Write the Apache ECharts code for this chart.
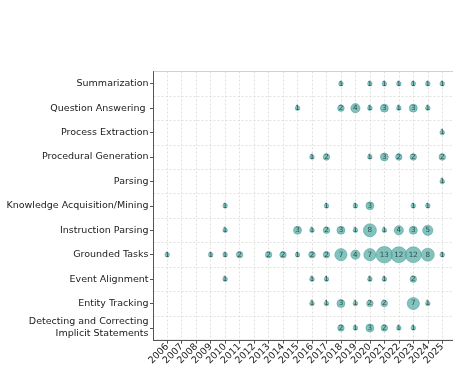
<!DOCTYPE html>
<html>
<head>
<meta charset="utf-8">
<script src="https://cdn.jsdelivr.net/npm/echarts@6/dist/echarts.min.js"></script>
<style>
  html, body { margin: 0; padding: 0; background: #fff; }
  #chart { width: 453px; height: 369px; }
</style>
</head>
<body>
<div id="chart"></div>
<script>
// Publication years on the x axis
const years = [2006, 2007, 2008, 2009, 2010, 2011, 2012, 2013, 2014, 2015,
               2016, 2017, 2018, 2019, 2020, 2021, 2022, 2023, 2024, 2025];

// Task categories, listed top to bottom
const tasks = [
  'Summarization',
  'Question Answering ',
  'Process Extraction',
  'Procedural Generation',
  'Parsing',
  'Knowledge Acquisition/Mining',
  'Instruction Parsing',
  'Grounded Tasks',
  'Event Alignment',
  'Entity Tracking',
  'Detecting and Correcting\nImplicit Statements'
];

// Paper counts per year (aligned with `years`), one array per task
const summarization        = [0,0,0,0,0,0,0,0,0,0, 0,0,1,0,1,1,1,1,1,1];
const questionAnswering    = [0,0,0,0,0,0,0,0,0,1, 0,0,2,4,1,3,1,3,1,0];
const processExtraction    = [0,0,0,0,0,0,0,0,0,0, 0,0,0,0,0,0,0,0,0,1];
const proceduralGeneration = [0,0,0,0,0,0,0,0,0,0, 1,2,0,0,1,3,2,2,0,2];
const parsing              = [0,0,0,0,0,0,0,0,0,0, 0,0,0,0,0,0,0,0,0,1];
const knowledgeAcquisition = [0,0,0,0,1,0,0,0,0,0, 0,1,0,1,3,0,0,1,1,0];
const instructionParsing   = [0,0,0,0,1,0,0,0,0,3, 1,2,3,1,8,1,4,3,5,0];
const groundedTasks        = [1,0,0,1,1,2,0,2,2,1, 2,2,7,4,7,13,12,12,8,1];
const eventAlignment       = [0,0,0,0,1,0,0,0,0,0, 1,1,0,0,1,1,0,2,0,0];
const entityTracking       = [0,0,0,0,0,0,0,0,0,0, 1,1,3,1,2,2,0,7,1,0];
const detectingCorrecting  = [0,0,0,0,0,0,0,0,0,0, 0,0,2,1,3,2,1,1,0,0];

const rows = [summarization, questionAnswering, processExtraction, proceduralGeneration,
              parsing, knowledgeAcquisition, instructionParsing, groundedTasks,
              eventAlignment, entityTracking, detectingCorrecting];

// Flatten into [year, task, count] triples, skipping empty cells
const points = [];
rows.forEach((counts, r) => {
  counts.forEach((c, i) => {
    if (c > 0) points.push([years[i], tasks[r], c]);
  });
});

const chart = echarts.init(document.getElementById('chart'), null, { renderer: 'canvas' });

const gridDash = { color: '#d9d9d9', width: 0.8, type: [2, 2] };
const font = 'DejaVu Sans';

chart.setOption({
  animation: false,
  backgroundColor: '#ffffff',
  grid: {
    left: 153.5, top: 71.5, width: 302.5, height: 268.7,
    outerBoundsMode: 'none',
    containLabel: false,
    show: true, borderColor: '#cccccc', borderWidth: 1, backgroundColor: 'transparent'
  },
  xAxis: {
    type: 'value',
    min: 2005.05,
    max: 2025.95,
    axisLine: { show: true, onZero: false, lineStyle: { color: '#555', width: 1 } },
    axisTick: { show: true, length: 3.5, customValues: years, lineStyle: { color: '#555' } },
    axisLabel: {
      customValues: years,
      rotate: 45,
      fontFamily: font,
      fontSize: 9.5,
      color: '#1a1a1a',
      margin: 5,
      formatter: v => String(v)
    },
    splitLine: { show: true, lineStyle: gridDash }
  },
  yAxis: {
    type: 'category',
    data: tasks,
    inverse: true,
    boundaryGap: true,
    axisLine: { show: true, lineStyle: { color: '#555', width: 1 } },
    axisTick: { show: true, alignWithLabel: true, length: 3.5, lineStyle: { color: '#555' } },
    axisLabel: {
      fontFamily: font,
      fontSize: 9.5,
      color: '#1a1a1a',
      margin: 5,
      lineHeight: 12,
      align: 'right'
    },
    splitLine: { show: true, lineStyle: gridDash }
  },
  series: [{
    type: 'scatter',
    data: points,
    symbolSize: d => 4.6 * Math.sqrt(d[2]),
    itemStyle: {
      color: 'rgba(92, 176, 170, 0.95)',
      borderColor: '#3f9892',
      borderWidth: 0.6
    },
    label: {
      show: true,
      position: 'inside',
      formatter: p => String(p.value[2]),
      fontFamily: font,
      fontSize: 7.2,
      color: '#16292a'
    },
    z: 5
  }]
});
</script>
</body>
</html>
